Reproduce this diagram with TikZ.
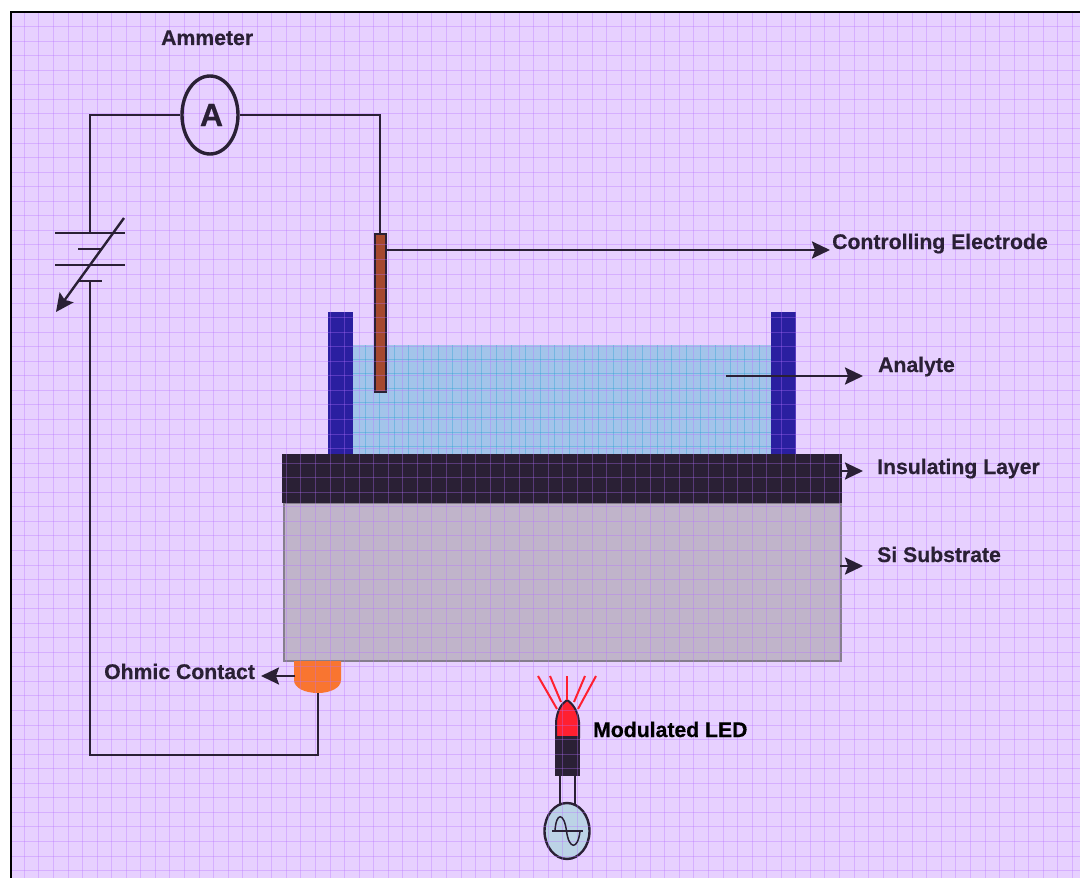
\documentclass[tikz,border=0pt]{standalone}
\usepackage{fontspec}
\setmainfont[BoldFeatures={FakeBold=0.5}]{Liberation Sans}
\usetikzlibrary{arrows.meta,shapes.geometric}
\definecolor{inkdark}{HTML}{2A2035}
\definecolor{paperlilac}{HTML}{E7D0FF}
\definecolor{gridlilac}{HTML}{B670FF}
\definecolor{wallblue}{HTML}{2A1FA0}
\definecolor{analyteblue}{HTML}{A3C4EA}
\definecolor{substrategrey}{HTML}{C0B4CA}
\definecolor{rodbrown}{HTML}{A5492F}
\definecolor{contactorange}{HTML}{F97530}
\definecolor{ledred}{HTML}{FF2030}
\definecolor{sourceblue}{HTML}{BCD3E6}
\tikzset{
    wire/.style={draw=inkdark,line width=2.4pt},
    plate/.style={draw=inkdark,line width=2.6pt},
    ray/.style={draw=ledred,line width=2pt},
    gridline/.style={gridlilac,opacity=0.34,line width=0.8pt},
    bathline/.style={cyan!70!teal,opacity=0.36,line width=0.8pt},
    layerbox/.style={rectangle,inner sep=0pt,outer sep=0pt,anchor=north west},
    callout/.style={anchor=base west,inner sep=0pt,font=\fontsize{21.2}{25}\selectfont\bfseries,text=inkdark},
}
\begin{document}
\begin{tikzpicture}[x=1pt,y=-1pt,>={Stealth[length=18pt,width=17pt,inset=3pt]}]
    \useasboundingbox (0,0) rectangle (1080,878);
    \fill[white] (0,0) rectangle (1080,878);
    \fill[paperlilac] (11,12) rectangle (1080,878);

    \node[layerbox,fill=analyteblue,minimum width=420pt,minimum height=111pt] (analyte) at (352,345) {};
    \foreach \i in {0,...,28}
        \draw[bathline] ({365+14.6*\i},345) -- ({365+14.6*\i},455);
    \foreach \i in {0,...,6}
        \draw[bathline] (352,{359+14.6*\i}) -- (771,{359+14.6*\i});
    \node[layerbox,fill=wallblue,minimum width=25pt,minimum height=144pt] (wallleft) at (328,312) {};
    \node[layerbox,fill=wallblue,minimum width=25pt,minimum height=144pt] (wallright) at (771,312) {};
    \node[layerbox,fill=substrategrey,draw=substrategrey!70!black,line width=2pt,minimum width=557pt,minimum height=158pt] (substrate) at (284,503) {};
    \node[layerbox,fill=inkdark,minimum width=560pt,minimum height=49pt] (insulator) at (282,454) {};
    \fill[contactorange] (294,661) -- (341,661) -- (341,680) .. controls (341,688) and (330,693) .. (318,693)
        .. controls (305,693) and (294,688) .. (294,680) -- cycle;
    \node[layerbox,fill=inkdark,minimum width=25pt,minimum height=39pt] (ledbody) at (555,737) {};
    \draw[fill=ledred,draw=inkdark,line width=2pt] (556,737) -- (556,722) .. controls (557,711) and (561,704) .. (567,700)
        .. controls (573,704) and (578,711) .. (579,722) -- (579,737) -- cycle;
    \node[ellipse,draw=inkdark,fill=sourceblue,line width=2.4pt,minimum width=45pt,minimum height=56pt,inner sep=0pt] (source) at (567,831) {};
    \node[layerbox,draw=inkdark,fill=rodbrown,line width=2pt,minimum width=11pt,minimum height=158pt] (rod) at (374.5,233.5) {};

    \foreach \i in {1,...,73}
        \draw[gridline] ({9.7+14.556*\i},12) -- ({9.7+14.556*\i},878);
    \foreach \i in {1,...,59}
        \draw[gridline] (11,{12+14.55*\i}) -- (1080,{12+14.55*\i});
    \draw[black,line width=2.6pt] (11,878) -- (11,12) -- (1080,12);

    \node[ellipse,draw=inkdark,line width=3.4pt,minimum width=56pt,minimum height=78pt,inner sep=0pt,
        font=\fontsize{32}{36}\selectfont\bfseries,text=inkdark] (ammeter) at (210,115) {\hspace{3pt}A};
    \coordinate (cellplus) at (90,233);
    \coordinate (cellminus) at (90,281);
    \coordinate (ohmicfoot) at (318,693);
    \coordinate (returncorner) at (90,755);
    \draw[wire] (ammeter.west) -| (cellplus);
    \draw[wire] (ammeter.east) -| (rod.north);
    \draw[wire] (cellminus) -- (returncorner) -| (ohmicfoot);
    \draw[plate] (55,233) -- (125,233);
    \draw[plate] (78,249) -- (102,249);
    \draw[plate] (55,265) -- (125,265);
    \draw[plate] (78,281) -- (102,281);
    \draw[->,wire] (124,218) -- (56,312);

    \node[callout] (ammeterlabel) at (161,45) {Ammeter};
    \node[callout] (rodlabel) at (832,249) {Controlling Electrode};
    \node[callout] (analytelabel) at (878,372) {Analyte};
    \node[callout] (insulatorlabel) at (877,474) {Insulating Layer};
    \node[callout] (substratelabel) at (877,562) {Si Substrate};
    \node[callout] (ohmiclabel) at (104,679) {Ohmic Contact};
    \node[callout,text=black] (ledlabel) at (593,737) {Modulated LED};

    \coordinate (rodtap) at (386,250);
    \coordinate (rodtip) at (830,250);
    \coordinate (analytetap) at (726,376);
    \coordinate (analytetip) at (863,376);
    \coordinate (insulatortap) at (842,471);
    \coordinate (insulatortip) at (863,471);
    \coordinate (substratetap) at (840,566);
    \coordinate (substratetip) at (863,566);
    \coordinate (ohmictap) at (295,676);
    \coordinate (ohmictip) at (261,676);
    \draw[->,wire] (rodtap) -- (rodtip);
    \draw[->,wire] (analytetap) -- (analytetip);
    \draw[->,wire] (insulatortap) -- (insulatortip);
    \draw[->,wire] (substratetap) -- (substratetip);
    \draw[->,wire] (ohmictap) -- (ohmictip);

    \draw[wire] (560,776) -- (560,805);
    \draw[wire] (575,776) -- (575,805);
    \draw[ray] (538,676) -- (557,709);
    \draw[ray] (550,676) -- (561,702);
    \draw[ray] (567,676) -- (567,700);
    \draw[ray] (585,676) -- (574,702);
    \draw[ray] (596,676) -- (578,709);
    \draw[draw=inkdark,line width=1.5pt] (552,831) -- (583,831);
    \draw[draw=inkdark,line width=1.5pt] (555,831) .. controls (556,812) and (564,812) .. (566.5,831)
        .. controls (569,850) and (578,850) .. (580,831);
\end{tikzpicture}
\end{document}
